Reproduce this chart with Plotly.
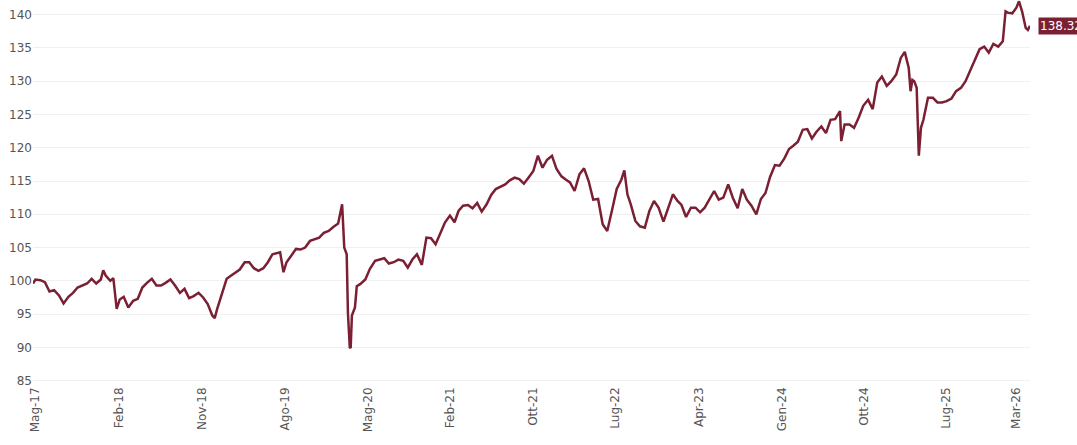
import plotly.graph_objects as go

dates = [
    "2017-05-08", "2017-05-16", "2017-06-01", "2017-06-16", "2017-07-01", "2017-07-16",
    "2017-08-01", "2017-08-16", "2017-09-01", "2017-09-16", "2017-10-01", "2017-10-16",
    "2017-11-01", "2017-11-16", "2017-12-01", "2017-12-16", "2017-12-24", "2018-01-01",
    "2018-01-16", "2018-01-26", "2018-02-06", "2018-02-16", "2018-03-01", "2018-03-16",
    "2018-04-01", "2018-04-16", "2018-05-01", "2018-05-16", "2018-06-01", "2018-06-16",
    "2018-07-01", "2018-07-16", "2018-08-01", "2018-08-16", "2018-09-01", "2018-09-16",
    "2018-10-01", "2018-10-16", "2018-11-01", "2018-11-16", "2018-12-01", "2018-12-16",
    "2018-12-24", "2019-01-01", "2019-01-16", "2019-02-01", "2019-02-16", "2019-03-01",
    "2019-03-16", "2019-04-01", "2019-04-16", "2019-05-01", "2019-05-16", "2019-06-01",
    "2019-06-16", "2019-07-01", "2019-07-16", "2019-07-26", "2019-08-06", "2019-08-16",
    "2019-09-01", "2019-09-16", "2019-10-01", "2019-10-16", "2019-11-01", "2019-11-16",
    "2019-12-01", "2019-12-16", "2020-01-01", "2020-01-16", "2020-02-01", "2020-02-14",
    "2020-02-21", "2020-02-29", "2020-03-04", "2020-03-10", "2020-03-13", "2020-03-17",
    "2020-03-27", "2020-04-02", "2020-04-13", "2020-04-30", "2020-05-15", "2020-06-01",
    "2020-06-16", "2020-07-01", "2020-07-16", "2020-08-01", "2020-08-16", "2020-09-01",
    "2020-09-16", "2020-10-01", "2020-10-16", "2020-11-01", "2020-11-16", "2020-12-01",
    "2020-12-16", "2021-01-01", "2021-01-16", "2021-02-01", "2021-02-16", "2021-03-01",
    "2021-03-16", "2021-04-01", "2021-04-16", "2021-05-01", "2021-05-16", "2021-06-01",
    "2021-06-16", "2021-07-01", "2021-07-16", "2021-08-01", "2021-08-16", "2021-09-01",
    "2021-09-16", "2021-10-01", "2021-10-16", "2021-11-01", "2021-11-16", "2021-12-01",
    "2021-12-16", "2022-01-01", "2022-01-16", "2022-02-01", "2022-02-16", "2022-03-01",
    "2022-03-16", "2022-04-01", "2022-04-16", "2022-05-01", "2022-05-16", "2022-06-01",
    "2022-06-16", "2022-07-01", "2022-07-16", "2022-08-01", "2022-08-16", "2022-08-26",
    "2022-09-05", "2022-09-16", "2022-10-01", "2022-10-16", "2022-11-01", "2022-11-16",
    "2022-12-01", "2022-12-16", "2023-01-01", "2023-01-16", "2023-02-01", "2023-02-16",
    "2023-03-01", "2023-03-16", "2023-04-01", "2023-04-16", "2023-05-01", "2023-05-16",
    "2023-06-01", "2023-06-16", "2023-07-01", "2023-07-16", "2023-08-01", "2023-08-16",
    "2023-09-01", "2023-09-16", "2023-10-01", "2023-10-16", "2023-11-01", "2023-11-16",
    "2023-12-01", "2023-12-16", "2024-01-01", "2024-01-16", "2024-02-01", "2024-02-16",
    "2024-03-01", "2024-03-16", "2024-04-01", "2024-04-16", "2024-05-01", "2024-05-16",
    "2024-06-01", "2024-06-16", "2024-07-01", "2024-07-16", "2024-08-01", "2024-08-05",
    "2024-08-16", "2024-09-01", "2024-09-16", "2024-10-01", "2024-10-16", "2024-11-01",
    "2024-11-16", "2024-12-01", "2024-12-16", "2025-01-01", "2025-01-16", "2025-02-01",
    "2025-02-16", "2025-03-01", "2025-03-14", "2025-03-20", "2025-03-26", "2025-04-01",
    "2025-04-09", "2025-04-16", "2025-04-23", "2025-05-01", "2025-05-16", "2025-06-01",
    "2025-06-16", "2025-07-01", "2025-07-16", "2025-08-01", "2025-08-16", "2025-09-01",
    "2025-09-16", "2025-10-01", "2025-10-16", "2025-11-01", "2025-11-16", "2025-12-01",
    "2025-12-16", "2026-01-01", "2026-01-16", "2026-01-25", "2026-02-01", "2026-02-16",
    "2026-03-01", "2026-03-10", "2026-03-20", "2026-04-01", "2026-04-08", "2026-04-15",
]

values = [
    99.6, 100.2, 100.1, 99.8, 98.4, 98.6,
    97.8, 96.6, 97.6, 98.2, 99.0, 99.3,
    99.6, 100.3, 99.6, 100.2, 101.6, 100.8,
    100.0, 100.4, 95.8, 97.2, 97.6, 96.0,
    97.0, 97.3, 99.0, 99.7, 100.3, 99.3,
    99.3, 99.7, 100.2, 99.3, 98.2, 98.8,
    97.4, 97.7, 98.2, 97.5, 96.5, 94.8,
    94.4, 95.8, 98.0, 100.3, 100.8, 101.2,
    101.7, 102.8, 102.8, 101.9, 101.5, 101.9,
    102.8, 104.0, 104.2, 104.3, 101.3, 102.8,
    103.8, 104.8, 104.7, 105.0, 106.0, 106.3,
    106.5, 107.2, 107.5, 108.1, 108.6, 111.5,
    105.0, 104.0, 95.2, 90.0, 89.9, 94.8,
    96.0, 99.2, 99.5, 100.2, 101.8, 103.0,
    103.2, 103.4, 102.6, 102.8, 103.2, 103.0,
    102.0, 103.2, 104.0, 102.4, 106.5, 106.4,
    105.5, 107.2, 108.8, 109.8, 108.8, 110.5,
    111.3, 111.4, 110.9, 111.7, 110.4, 111.5,
    112.9, 113.8, 114.1, 114.5, 115.1, 115.5,
    115.3, 114.6, 115.5, 116.5, 118.8, 117.0,
    118.2, 118.8, 116.8, 115.7, 115.2, 114.8,
    113.5, 116.0, 116.9, 115.0, 112.2, 112.3,
    108.5, 107.5, 110.5, 113.8, 115.2, 116.6,
    113.0, 111.5, 109.0, 108.2, 108.0, 110.5,
    112.0, 111.0, 108.9, 111.0, 113.0, 112.0,
    111.4, 109.6, 111.0, 111.0, 110.3, 111.0,
    112.2, 113.5, 112.2, 112.5, 114.5, 112.5,
    110.9, 113.8, 112.2, 111.3, 110.0, 112.3,
    113.2, 115.6, 117.4, 117.3, 118.4, 119.8,
    120.3, 120.9, 122.7, 122.8, 121.4, 122.4,
    123.2, 122.2, 124.2, 124.3, 125.5, 121.0,
    123.5, 123.5, 123.0, 124.5, 126.3, 127.2,
    125.8, 129.8, 130.7, 129.3, 130.0, 131.0,
    133.5, 134.4, 132.0, 128.5, 130.2, 130.0,
    129.0, 118.8, 123.0, 124.2, 127.5, 127.5,
    126.8, 126.8, 127.0, 127.4, 128.5, 129.0,
    130.0, 131.5, 133.0, 134.8, 135.2, 134.3,
    135.6, 135.2, 136.0, 140.5, 140.3, 140.2,
    141.0, 142.0, 140.5, 138.0, 137.7, 138.32,
]

tick_dates = ["2017-05-15", "2018-02-14", "2018-11-13", "2019-08-11", "2020-05-09",
              "2021-02-03", "2021-10-31", "2022-07-26", "2023-04-27", "2024-01-24",
              "2024-10-19", "2025-07-14", "2026-03-02"]
tick_labels = ["Mag-17", "Feb-18", "Nov-18", "Ago-19", "Mag-20", "Feb-21", "Ott-21",
               "Lug-22", "Apr-23", "Gen-24", "Ott-24", "Lug-25", "Mar-26"]
y_ticks = [85, 90, 95, 100, 105, 110, 115, 120, 125, 130, 135, 140]

LINE = "#7b1f33"
FONT = "DejaVu Sans"

fig = go.Figure()
fig.add_trace(go.Scatter(
    x=dates, y=values, mode="lines",
    line=dict(color=LINE, width=2.5),
    hoverinfo="x+y", showlegend=False,
))

last_x, last_y = dates[-1], values[-1]
fig.add_shape(
    type="path", xref="x", yref="y", xsizemode="pixel", ysizemode="pixel",
    xanchor=last_x, yanchor=last_y,
    path="M 5 0 L 9 5 L 9 -5 Z",
    fillcolor=LINE, line=dict(width=0),
)
fig.add_annotation(
    x=last_x, y=last_y, xref="x", yref="y", showarrow=False,
    xanchor="left", yanchor="middle", xshift=8,
    text=f"{last_y:.2f}", font=dict(family=FONT, size=12, color="white"),
    bgcolor=LINE, borderpad=1,
)

fig.update_layout(
    width=1077, height=445,
    margin=dict(l=33, r=47, t=0, b=61),
    paper_bgcolor="white", plot_bgcolor="white",
    font=dict(family=FONT, size=12, color="#555555"),
    xaxis=dict(
        type="date", range=[dates[0], dates[-1]],
        tickmode="array", tickvals=tick_dates, ticktext=tick_labels,
        tickangle=-90, showgrid=False, zeroline=False, showline=False,
        ticks="", tickfont=dict(family=FONT, size=12, color="#555555"),
    ),
    yaxis=dict(
        range=[84.5, 142.2], tickmode="array", tickvals=y_ticks,
        showgrid=True, gridcolor="#f0f0f0", gridwidth=1,
        zeroline=False, showline=False, ticks="",
        tickfont=dict(family=FONT, size=12, color="#555555"),
    ),
)

fig.write_html("out.html", config={"displayModeBar": False},
               post_script="document.body.style.margin='0';")
